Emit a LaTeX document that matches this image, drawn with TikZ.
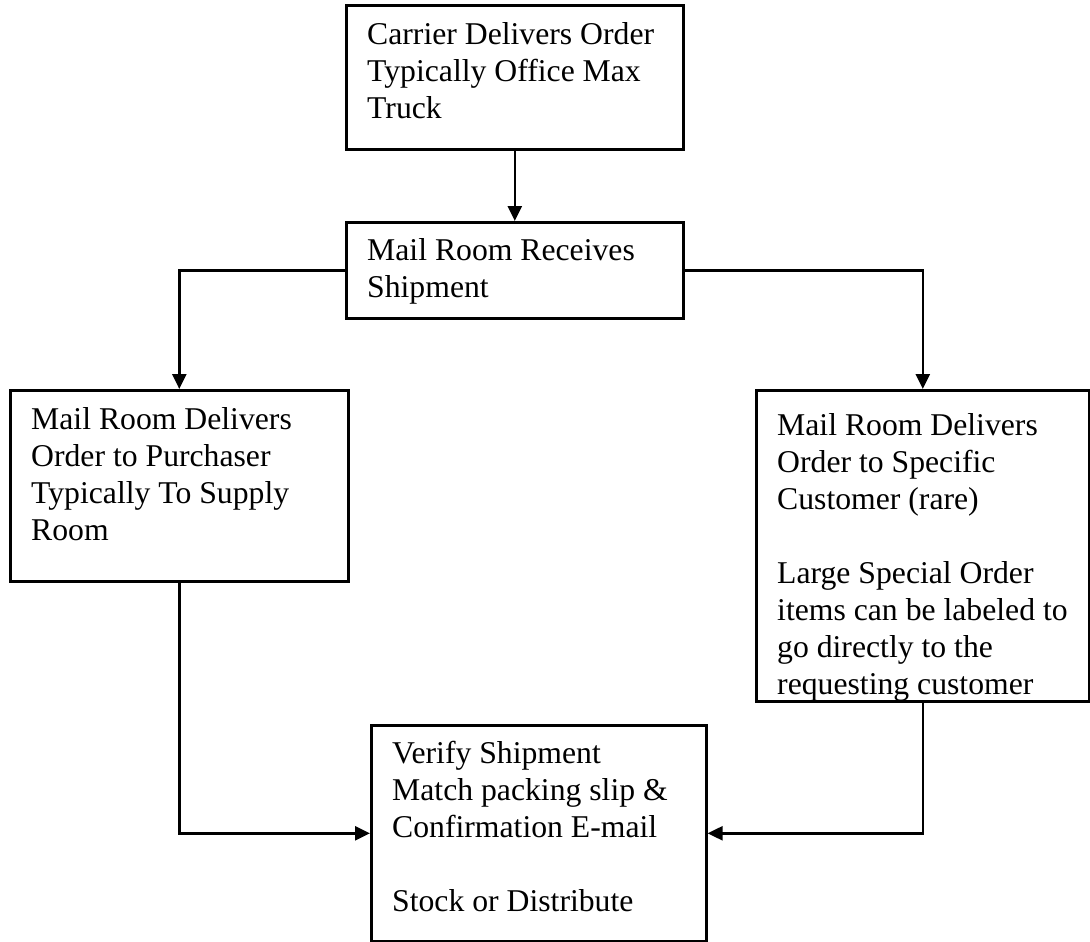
\documentclass[tikz,border=0pt]{standalone}
\usepackage{fontspec}
\setmainfont{Liberation Serif}
\usetikzlibrary{arrows.meta}
\begin{document}
\begin{tikzpicture}[x=1pt, y=-1pt,
  stepbox/.style={draw=black, line width=2.6pt, rectangle, inner sep=0pt, anchor=north west},
  boxtxt/.style={anchor=base west, inner sep=0pt, font=\fontsize{31.7}{37}\selectfont},
  flow/.style={line width=2.4pt, -{Triangle[length=15pt,width=14pt]}},
]
\useasboundingbox (0,0) rectangle (1090,942);

% boxes
\node[stepbox, minimum width=337pt, minimum height=144pt] (b1) at (345,4) {};
\node[stepbox, minimum width=337pt, minimum height=96pt]  (b2) at (345,221) {};
\node[stepbox, minimum width=338pt, minimum height=191pt] (b3) at (9,389) {};
\node[stepbox, minimum width=333pt, minimum height=311pt] (b4) at (755,389) {};
\node[stepbox, minimum width=335pt, minimum height=216pt] (b5) at (370,724) {};

% box texts
\node[boxtxt] (t1) at (367,45) {\parbox[t]{420pt}{\raggedright
  Carrier Delivers Order\\Typically Office Max\\Truck}};
\node[boxtxt] (t2) at (367,260) {\parbox[t]{420pt}{\raggedright
  Mail Room Receives\\Shipment}};
\node[boxtxt] (t3) at (31,429) {\parbox[t]{420pt}{\raggedright
  Mail Room Delivers\\Order to Purchaser\\Typically To Supply\\Room}};
\begin{scope}
  \clip (b4.north west) rectangle (b4.south east);
  \node[boxtxt] (t4) at (777,435) {\parbox[t]{420pt}{\raggedright
    Mail Room Delivers\\Order to Specific\\Customer (rare)\\\strut\\
    Large Special Order\\items can be labeled to\\go directly to the\\requesting customer}};
\end{scope}
\node[boxtxt] (t5) at (392,763) {\parbox[t]{420pt}{\raggedright
  Verify Shipment\\Match packing slip \&\\Confirmation E-mail\\\strut\\Stock or Distribute}};

% connectors
\draw[flow] (b1.south) -- (b2.north);
\draw[flow] (b2.west) -| (b3.north);
\draw[flow] (b2.east) -| (b4.north);
\draw[flow] (b3.south) |- (b5.west);
\draw[flow] (b4.south) |- (b5.east);
\end{tikzpicture}
\end{document}
